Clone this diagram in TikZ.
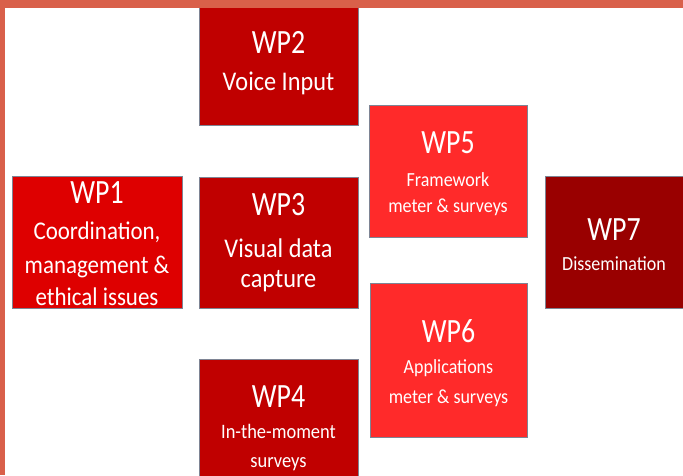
\documentclass[tikz,border=0pt]{standalone}
\usepackage{fontspec}
\newfontfamily\wptitlefont[FakeStretch=0.82]{Carlito}
\newfontfamily\wpbodyfont[FakeStretch=0.9]{Carlito}
\definecolor{frameC}{HTML}{D9604A}
\definecolor{wpA}{HTML}{DE0000}
\definecolor{wpB}{HTML}{C00000}
\definecolor{wpC}{HTML}{FF2A2A}
\definecolor{wpD}{HTML}{990000}
\definecolor{edgeC}{HTML}{7E8494}
\tikzset{
  wpbox/.style={draw=edgeC, line width=0.9pt, inner sep=0pt, outer sep=0pt, anchor=north west},
  wptitle/.style={text=white, anchor=base, inner sep=0pt, font=\wptitlefont\fontsize{34}{34}\selectfont},
  wpbody/.style={text=white, anchor=base, inner sep=0pt, font=\wpbodyfont\fontsize{#1}{#1}\selectfont},
}
\begin{document}
\begin{tikzpicture}[x=1pt,y=-1pt]
\useasboundingbox (0,0) rectangle (683,475);
\clip (0,0) rectangle (683,475);
\fill[white] (0,0) rectangle (683,475);
% boxes
\node[wpbox, fill=wpA, minimum width=170pt, minimum height=132pt] (wp1) at (12,176) {};
\node[wpbox, fill=wpB, minimum width=159pt, minimum height=131pt] (wp2) at (199,-6) {};
\node[wpbox, fill=wpB, minimum width=159pt, minimum height=131pt] (wp3) at (199,177) {};
\node[wpbox, fill=wpB, minimum width=159pt, minimum height=131pt] (wp4) at (199,359) {};
\node[wpbox, fill=wpC, minimum width=158pt, minimum height=132pt] (wp5) at (369,105) {};
\node[wpbox, fill=wpC, minimum width=157pt, minimum height=154pt] (wp6) at (370,283) {};
\node[wpbox, fill=wpD, minimum width=145pt, minimum height=132pt] (wp7) at (545,176) {};
% texts
\node[wptitle] (t1) at (97,203) {WP1};
\node[wpbody=25.5] (t1a) at (97,239) {Coordination,};
\node[wpbody=25.5] (t1b) at (97,273) {management \&};
\node[wpbody=25.5] (t1c) at (97,305) {ethical issues};
\node[wptitle] (t2) at (278.5,53) {WP2};
\node[wpbody=27] (t2a) at (278.5,90) {Voice Input};
\node[wptitle] (t3) at (278.5,215) {WP3};
\node[wpbody=27] (t3a) at (278.5,257) {Visual data};
\node[wpbody=27] (t3b) at (278.5,287) {capture};
\node[wptitle] (t4) at (278.5,407) {WP4};
\node[wpbody=20.5] (t4a) at (278.5,438) {In-the-moment};
\node[wpbody=20.5] (t4b) at (278.5,467) {surveys};
\node[wptitle] (t5) at (448,153) {WP5};
\node[wpbody=20] (t5a) at (448,186) {Framework};
\node[wpbody=20] (t5b) at (448,212) {meter \& surveys};
\node[wptitle] (t6) at (448.5,342) {WP6};
\node[wpbody=20] (t6a) at (448.5,373) {Applications};
\node[wpbody=20] (t6b) at (448.5,403) {meter \& surveys};
\node[wptitle] (t7) at (614,240) {WP7};
\node[wpbody=20] (t7a) at (614,270) {Dissemination};
% frame
\fill[frameC] (0,0) rectangle (683,8);
\fill[frameC] (0,0) rectangle (5,475);
\end{tikzpicture}
\end{document}
